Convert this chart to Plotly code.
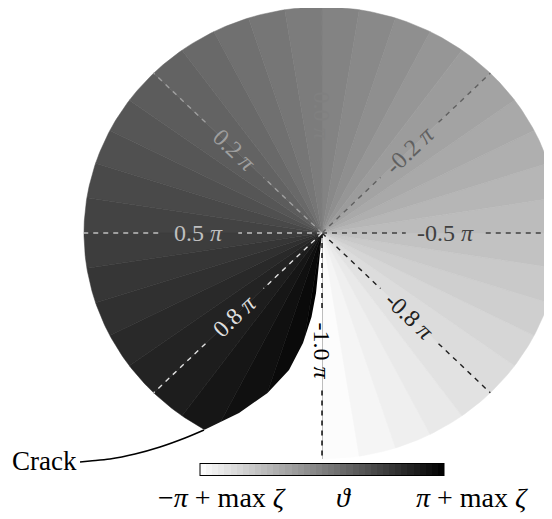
import numpy as np
import plotly.graph_objects as go

# disk drawn in screen pixels, centre of the disk at (0, 0)
semi_x, semi_y = 238, 226
n_levels = 40
theta_min, theta_max = -1.0, 1.0  # units of pi

# contour lines of theta (units of pi), labelled with one decimal
contour_levels = [-1.0, -0.75, -0.5, -0.25, 0.0, 0.25, 0.5, 0.75]

# crack path (px from the centre, y up)
crack_in_x = [0, -3, -6, -10.5, -19, -33, -54.5, -83, -118]
crack_in_y = [0, -31, -60, -84, -110, -137, -160, -180, -197]
crack_out_x = [-118, -137, -162, -187, -212, -232, -242]
crack_out_y = [-197, -205, -214, -221, -226, -228, -229]

font = 'Liberation Serif'

# the page body adds an 8px offset; place the disk centre at (322, 233) on screen
cx, cy = 322 - 8, 233 - 8


def grey(t):
    g = int(round(255 * (1 - min(max(t, 0), 1))))
    return f'rgb({g},{g},{g})'


def rim(phi_deg, r=1.0):
    phi = np.radians(phi_deg)
    return -semi_x * r * np.sin(phi), semi_y * r * np.cos(phi)


fig = go.Figure()

# coloured wedges
span = theta_max - theta_min
for k in range(n_levels):
    t0 = theta_min + span * k / n_levels
    t1 = theta_min + span * (k + 1) / n_levels
    ex, ey = rim(np.linspace(t0, t1, 12) * 180)
    c = grey((k + 0.5) / n_levels)
    fig.add_trace(go.Scatter(
        x=[0, *ex, 0], y=[0, *ey, 0], mode='lines', fill='toself',
        fillcolor=c, line=dict(width=0.5, color=c), hoverinfo='skip'))

# region cut off by the crack stays blank
tip_phi = np.degrees(np.arctan2(-crack_in_x[-1] / semi_x, crack_in_y[-1] / semi_y))
ax, ay = rim(np.linspace(tip_phi, 180, 30), 1.03)
fig.add_trace(go.Scatter(
    x=[*crack_in_x, *ax, 0], y=[*crack_in_y, *ay, 0], mode='lines',
    fill='toself', fillcolor='white', line=dict(width=0), hoverinfo='skip'))

# dashed contour lines with inline labels
label_pos = 0.52
gap = 40
annotations = []
for lev in contour_levels:
    rx, ry = rim(lev * 180)
    length = np.hypot(rx, ry)
    f0 = label_pos - gap / length
    f1 = label_pos + gap / length
    c = grey((-lev - theta_min) / span)
    fig.add_trace(go.Scatter(
        x=[0, f0 * rx, None, f1 * rx, rx], y=[0, f0 * ry, None, f1 * ry, ry],
        mode='lines', line=dict(color=c, width=1.4, dash='5px,5px'),
        hoverinfo='skip'))
    ang = np.degrees(np.arctan2(-ry, rx))
    if ang > 90:
        ang -= 180
    elif ang <= -90:
        ang += 180
    annotations.append(dict(
        x=label_pos * rx, y=label_pos * ry, text=f'{lev:.1f} <i>π</i>',
        textangle=ang, showarrow=False, xanchor='center', yanchor='middle',
        font=dict(family=font, size=24, color=c)))

# crack leaving the disk
fig.add_trace(go.Scatter(
    x=crack_out_x, y=crack_out_y, mode='lines',
    line=dict(color='black', width=1.6, shape='spline'), hoverinfo='skip'))
annotations.append(dict(
    x=-243, y=-228, text='Crack', showarrow=False, xanchor='right',
    yanchor='middle', font=dict(family=font, size=27, color='black')))

# colour bar
scale = []
for k in range(n_levels):
    c = grey((k + 0.5) / n_levels)
    scale += [[k / n_levels, c], [(k + 1) / n_levels, c]]
fig.add_trace(go.Scatter(
    x=[1000, 1000], y=[0, 0], mode='markers', hoverinfo='skip',
    marker=dict(color=[theta_min, theta_max], cmin=theta_min, cmax=theta_max,
                colorscale=scale, showscale=True,
                colorbar=dict(orientation='h', lenmode='pixels', len=244,
                              thickness=12, x=cx / 552, xanchor='center',
                              y=1 - (469.5 - 8) / 519, yanchor='middle',
                              xpad=0, ypad=0, outlinewidth=1,
                              outlinecolor='black', ticks='',
                              showticklabels=False))))

for txt, xpos in [('−<i>π</i> + max <i>ζ</i>', -100), ('<i>ϑ</i>', 21),
                  ('<i>π</i> + max <i>ζ</i>', 150)]:
    annotations.append(dict(
        x=xpos, y=-264, text=txt, showarrow=False, xanchor='center',
        yanchor='middle', font=dict(family=font, size=28, color='black')))

fig.update_layout(
    width=552, height=519,
    margin=dict(l=0, r=0, t=0, b=0),
    paper_bgcolor='white', plot_bgcolor='white',
    showlegend=False,
    xaxis=dict(range=[-cx, 552 - cx], visible=False),
    yaxis=dict(range=[cy - 519, cy], visible=False),
    annotations=annotations,
)

fig.write_html('out.html')
